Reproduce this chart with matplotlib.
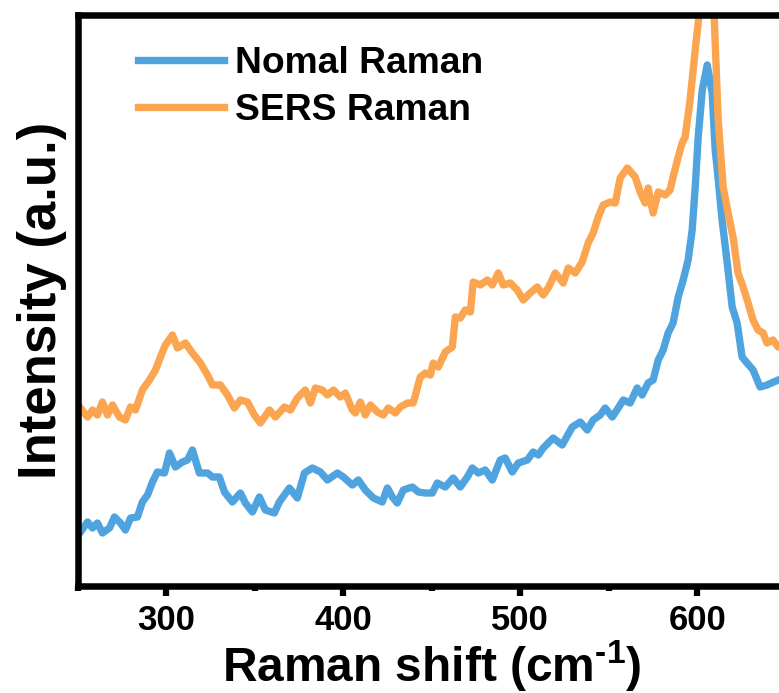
import matplotlib
matplotlib.use("Agg")
import matplotlib.pyplot as plt
from matplotlib.ticker import MultipleLocator

plt.rcParams['font.family'] = ['Liberation Sans', 'DejaVu Sans']
plt.rcParams['font.weight'] = 'bold'
plt.rcParams['mathtext.fontset'] = 'custom'
plt.rcParams['mathtext.rm'] = 'Liberation Sans:bold'
plt.rcParams['mathtext.bf'] = 'Liberation Sans:bold'
plt.rcParams['mathtext.default'] = 'rm'

# normal Raman spectrum (raman shift in cm-1, intensity in a.u.)
normal_shift = [251.4, 255.4, 258.2, 261.0, 263.8, 267.8, 270.6, 274.0, 276.8, 279.7,
                283.6, 286.4, 289.3, 292.1, 294.9, 298.9, 301.7, 305.1, 309.0, 311.9,
                314.7, 318.6, 323.2, 326.0, 329.9, 332.8, 337.3, 341.8, 344.6, 348.6,
                352.5, 355.9, 361.0, 363.8, 369.5, 374.0, 378.0, 382.5, 387.0, 391.0,
                396.6, 400.0, 405.1, 408.5, 412.4, 417.0, 422.0, 424.9, 427.7, 430.5,
                433.9, 439.0, 442.4, 446.3, 450.3, 453.1, 457.6, 462.1, 466.1, 470.1,
                472.9, 476.3, 480.2, 484.2, 488.7, 491.5, 495.5, 498.9, 504.0, 507.3,
                510.2, 513.0, 518.6, 523.7, 529.4, 533.9, 537.9, 541.2, 545.2, 548.0,
                552.0, 555.4, 558.2, 562.1, 566.1, 568.9, 572.3, 575.1, 578.0, 580.8,
                583.6, 586.4, 589.3, 592.1, 594.9, 597.2, 598.9, 600.6, 602.9, 605.7,
                608.5, 610.2, 611.4, 614.1, 617.0, 619.8, 622.6, 625.4, 628.2, 631.6,
                635.6, 639.5, 645.8, 650.0]
normal_int = [56, 66, 60, 65, 55, 60, 71, 65, 58, 70,
              71, 86, 93, 106, 116, 115, 135, 121, 126, 128,
              138, 115, 115, 111, 111, 96, 86, 95, 85, 76,
              91, 78, 75, 86, 100, 90, 115, 120, 116, 108,
              115, 111, 103, 108, 98, 90, 86, 100, 91, 85,
              98, 101, 96, 95, 95, 105, 101, 110, 101, 111,
              120, 115, 118, 108, 128, 130, 116, 125, 128, 136,
              133, 140, 150, 143, 161, 166, 158, 168, 173, 180,
              171, 180, 188, 185, 200, 193, 205, 208, 228, 238,
              255, 265, 291, 308, 328, 358, 401, 451, 498, 523,
              495, 438, 418, 368, 325, 281, 265, 231, 225, 218,
              201, 203, 208, 210]

# SERS spectrum
sers_shift = [251.4, 255.4, 258.2, 261.0, 263.8, 266.7, 269.5, 273.4, 276.8, 279.7,
              282.5, 286.4, 290.4, 293.8, 296.6, 299.4, 303.4, 306.2, 310.7, 314.7,
              319.2, 323.2, 326.0, 330.5, 334.5, 338.4, 341.8, 345.8, 349.7, 353.1,
              358.2, 361.6, 366.7, 370.1, 374.0, 378.5, 381.4, 384.2, 388.1, 391.0,
              394.4, 398.3, 401.1, 405.1, 406.8, 409.6, 412.4, 415.3, 419.2, 422.6,
              425.4, 429.4, 432.2, 436.2, 439.5, 443.5, 446.3, 449.2, 450.8, 453.7,
              457.6, 461.6, 463.3, 466.1, 468.9, 471.8, 473.4, 477.4, 481.4, 484.2,
              487.6, 490.4, 494.4, 498.3, 501.7, 505.6, 509.6, 513.0, 515.8, 519.8,
              524.3, 527.1, 531.1, 535.0, 538.4, 541.2, 544.1, 546.9, 550.8, 553.7,
              556.5, 560.5, 565.0, 567.8, 570.6, 572.3, 575.1, 578.0, 581.9, 584.7,
              586.4, 589.3, 591.5, 593.2, 596.0, 598.9, 601.1, 605.5, 609.6, 611.9,
              614.7, 617.5, 620.3, 623.1, 626.0, 628.8, 631.6, 634.4, 637.3, 639.5,
              642.9, 645.8, 650.0]
sers_int = [180, 171, 178, 173, 186, 173, 183, 171, 168, 181,
            178, 198, 208, 218, 231, 243, 253, 240, 245, 235,
            225, 213, 203, 203, 193, 180, 188, 186, 173, 165,
            178, 171, 181, 178, 190, 198, 185, 200, 198, 193,
            198, 191, 195, 178, 175, 186, 173, 183, 176, 173,
            180, 175, 181, 185, 185, 211, 215, 213, 225, 221,
            236, 241, 271, 270, 278, 276, 306, 303, 308, 303,
            315, 303, 305, 298, 288, 295, 301, 293, 300, 315,
            305, 320, 315, 326, 345, 355, 371, 383, 386, 385,
            410, 420, 411, 396, 385, 400, 375, 396, 393, 398,
            411, 431, 445, 451, 488, 538, 573, 700, 573, 468,
            401, 375, 351, 315, 301, 285, 268, 258, 255, 245,
            248, 241, 240]

blue = '#4FA3DE'
orange = '#FBA550'

fig = plt.figure(figsize=(7.79, 6.93), dpi=100)
ax = fig.add_axes([78 / 779, 107 / 693, 707.6 / 779, 571 / 693])

ax.plot(normal_shift, normal_int, color=blue, lw=5.3, label='Nomal Raman',
        solid_joinstyle='round')
ax.plot(sers_shift, sers_int, color=orange, lw=5.3, label='SERS Raman',
        solid_joinstyle='round')

ax.set_xlim(250, 650)
ax.set_ylim(2, 573)

ax.xaxis.set_major_locator(MultipleLocator(100))
ax.xaxis.set_minor_locator(MultipleLocator(50))
ax.tick_params(axis='x', which='major', direction='out', length=7.5, width=4.5,
               labelsize=25, pad=5.5)
ax.tick_params(axis='x', which='minor', direction='out', length=3.5, width=4.5)
ax.set_yticks([])
for s in ax.spines.values():
    s.set_linewidth(4.7)
ax.spines['right'].set_visible(False)

ax.set_xlabel('Raman shift (cm$^{\u20101}$)', fontsize=34.5, fontweight='bold', labelpad=1)
ax.set_ylabel('Intensity (a.u.)', fontsize=38, fontweight='bold', labelpad=8)

leg = ax.legend(loc='upper left', bbox_to_anchor=(0.085, 0.945), frameon=False,
                fontsize=26.8, handlelength=2.3, handletextpad=0.3,
                labelspacing=0.3, borderpad=0, borderaxespad=0)

plt.savefig('out.png', dpi=100)
